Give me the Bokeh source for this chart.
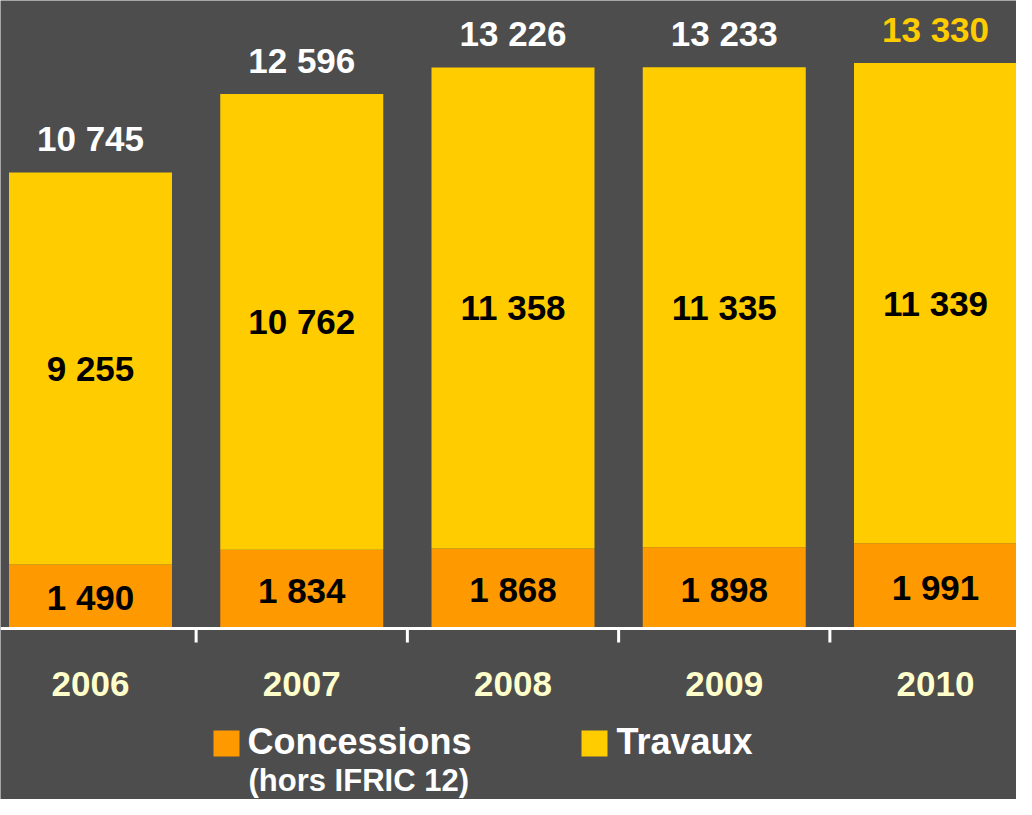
from bokeh.plotting import figure
from bokeh.models import ColumnDataSource, Range1d, Span
from bokeh.core.properties import value
from bokeh.embed import file_html
from bokeh.resources import INLINE

# ---- data ----
years = ["2006", "2007", "2008", "2009", "2010"]
concessions = [1490, 1834, 1868, 1898, 1991]
travaux = [9255, 10762, 11358, 11335, 11339]
totals = [10745, 12596, 13226, 13233, 13330]

def fmt(v):
    return f"{v:,}".replace(",", " ")

# ---- style ----
BG = "#4D4D4D"
ORANGE = "#FF9900"
YELLOW = "#FFCC00"
YEAR_COL = "#FFFFCC"
FONT = "Liberation Sans"

W, H = 1016, 799
# pixel layout helpers (figure pixel coordinates -> data)
X0_PX, STEP_PX = 90.0, 211.25          # centre of first bar, spacing
BASE_PX = 627.0                         # y pixel of value 0
K = 455.0 / 10745.0                     # pixels per unit

def dx(px):
    return (px - X0_PX) / STEP_PX

def dy(py):
    return (BASE_PX - py) / K

xs = list(range(len(years)))

p = figure(width=W, height=H, output_backend="svg", toolbar_location=None,
           x_range=Range1d(dx(0), dx(W)), y_range=Range1d(dy(H), dy(0)),
           min_border=0, min_border_left=0, min_border_right=0,
           min_border_top=0, min_border_bottom=0)
p.background_fill_color = BG
p.border_fill_color = BG
p.outline_line_color = None
p.axis.visible = False
p.grid.visible = False

src = ColumnDataSource(dict(x=xs, concessions=concessions, travaux=travaux))
p.vbar_stack(["concessions", "travaux"], x="x", width=163 / STEP_PX,
             color=[ORANGE, YELLOW], line_color=None, source=src)

# axis line and ticks
p.add_layout(Span(location=dy(628), dimension="width", line_color="white", line_width=3))
tick_x = [i + 0.5 for i in xs[:-1]]
p.segment(x0=tick_x, y0=[dy(628)] * len(tick_x), x1=tick_x, y1=[dy(642)] * len(tick_x),
          line_color="white", line_width=3)

# value labels
conc_mid = [c / 2 - 2 / K for c in concessions]
trav_mid = [c + t / 2 for c, t in zip(concessions, travaux)]
p.text(x=xs, y=conc_mid, text=[fmt(v) for v in concessions], text_align="center",
       text_baseline="middle", text_font=value(FONT), text_font_style="bold",
       text_font_size="35px", text_color="black")
p.text(x=xs, y=trav_mid, text=[fmt(v) for v in travaux], text_align="center",
       text_baseline="middle", text_font=value(FONT), text_font_style="bold",
       text_font_size="35px", text_color="black")
tot_y = [t + 34 / K for t in totals]
tot_col = ["white"] * (len(totals) - 1) + [YELLOW]
p.text(x=xs, y=tot_y, text=[fmt(v) for v in totals], text_align="center",
       text_baseline="middle", text_font=value(FONT), text_font_style="bold",
       text_font_size="35px", text_color=tot_col)

# year labels
p.text(x=xs, y=[dy(683)] * len(xs), text=years, text_align="center",
       text_baseline="middle", text_font=value(FONT), text_font_style="bold",
       text_font_size="35px", text_color=YEAR_COL)

# legend (moved up slightly so the second line fits in the canvas)
p.rect(x=[dx(226), dx(594)], y=[dy(743), dy(743)], width=26, height=26,
       width_units="screen", height_units="screen", fill_color=[ORANGE, YELLOW],
       line_color=None)
p.text(x=[dx(247), dx(616)], y=[dy(741), dy(741)], text=["Concessions", "Travaux"],
       text_align="left", text_baseline="middle", text_font=value(FONT),
       text_font_style="bold", text_font_size="36px", text_color="white")
p.text(x=[dx(248)], y=[dy(780)], text=["(hors IFRIC 12)"],
       text_align="left", text_baseline="middle", text_font=value(FONT),
       text_font_style="bold", text_font_size="31px", text_color="white")

open("out.html", "w").write(file_html(p, INLINE))
